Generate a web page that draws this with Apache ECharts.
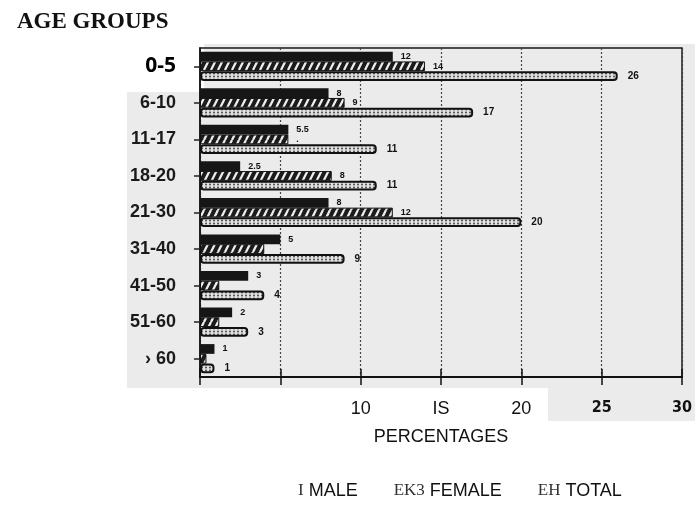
<!DOCTYPE html>
<html><head><meta charset="utf-8">
<script src="https://cdn.jsdelivr.net/npm/echarts@6/dist/echarts.min.js"></script>
<style>html,body{margin:0;padding:0;background:#fff}#c{width:695px;height:506px}</style>
</head><body><div id="c"></div>
<script>
const categories = ['0-5', '6-10', '11-17', '18-20', '21-30', '31-40', '41-50', '51-60', '› 60'];
const maleValues = [12, 8, 5.5, 2.5, 8, 5, 3, 2, 0.9];
const femaleValues = [14, 9, 5.5, 8.2, 12, 4, 1.2, 1.2, 0.4];
const totalValues = [26, 17, 11, 11, 20, 9, 4, 3, 0.9];
const maleLabelText = ['12', '8', '5.5', '2.5', '8', '5', '3', '2', '1'];
const femaleLabelText = ['14', '9', '.', '8', '12', '', '', '', ''];
const totalLabelText = ['26', '17', '11', '11', '20', '9', '4', '3', '1'];
const xTickLabels = ['', '', '10', 'IS', '20', '25', '30'];
const legendNames = ['MALE', 'FEMALE', 'TOTAL'];
const legendPrefixes = ['I', 'EK3', 'EH'];

function hatchPattern() {
  const c = document.createElement('canvas'); c.width = 7; c.height = 14;
  const g = c.getContext('2d');
  g.fillStyle = '#1b1b1b'; g.fillRect(0, 0, 7, 14);
  g.strokeStyle = '#eeeeee'; g.lineWidth = 2.2;
  [-7, 0, 7].forEach(function (dx) { g.beginPath(); g.moveTo(dx + 1, 14); g.lineTo(dx + 8, 0); g.stroke(); });
  return c;
}
function dotPattern() {
  const c = document.createElement('canvas'); c.width = 4; c.height = 3;
  const g = c.getContext('2d');
  g.fillStyle = '#e2e2e2'; g.fillRect(0, 0, 4, 3);
  g.fillStyle = '#444'; g.beginPath(); g.arc(2, 1.5, 0.95, 0, Math.PI * 2); g.fill();
  return c;
}

const labelBase = { show: true, position: 'right', distance: 8, fontSize: 9, fontWeight: 'bold', fontFamily: 'Liberation Sans', color: '#111' };

const chart = echarts.init(document.getElementById('c'), null, { renderer: 'canvas' });
chart.setOption({
  animation: false,
  backgroundColor: '#fff',
  title: { text: 'AGE GROUPS', left: 12, top: 6, textStyle: { fontFamily: 'Liberation Serif', fontWeight: 'bold', fontSize: 23, color: '#111' } },
  graphic: [
    { type: 'rect', silent: true, z: -10, shape: { x: 127, y: 44, width: 568, height: 344 }, style: { fill: '#ebebeb' } },
    { type: 'rect', silent: true, z: -10, shape: { x: 548, y: 388, width: 147, height: 33 }, style: { fill: '#ebebeb' } },
    { type: 'rect', silent: true, z: -5, shape: { x: 100, y: 30, width: 104, height: 62 }, style: { fill: '#ffffff' } }
  ],
  legend: {
    data: legendNames, left: 288, top: 477, itemWidth: 0, itemHeight: 0, itemGap: 30,
    formatter: function (name) { return '{p|' + legendPrefixes[legendNames.indexOf(name)] + '} ' + name; },
    textStyle: { fontFamily: 'Liberation Sans', fontSize: 18, color: '#111', rich: { p: { fontFamily: 'Liberation Serif', fontSize: 17, color: '#333' } } }
  },
  grid: { left: 200, right: 8, top: 48, bottom: 129, show: true, borderColor: '#1a1a1a', borderWidth: 1.5, backgroundColor: 'transparent' },
  xAxis: [
    {
      type: 'value', min: 0, max: 30, interval: 5, position: 'bottom',
      axisLine: { show: true, lineStyle: { color: '#111', width: 2 } },
      axisTick: { show: true, inside: false, length: 8, lineStyle: { color: '#111', width: 1.5 } },
      splitLine: { show: true, lineStyle: { color: '#444', width: 1.2, type: [2, 2] } },
      axisLabel: {
        margin: 23, fontFamily: 'Liberation Sans', fontSize: 18, color: '#111',
        formatter: function (v) { const i = Math.round(v / 5); const t = xTickLabels[i]; return i >= 5 ? '{b|' + t + '}' : t; },
        rich: { b: { fontFamily: 'DejaVu Sans Condensed', fontWeight: 'bold', fontSize: 16, color: '#111' } }
      },
      name: 'PERCENTAGES', nameLocation: 'middle', nameGap: 51,
      nameTextStyle: { fontFamily: 'Liberation Sans', fontSize: 18, color: '#111' }
    },
    {
      type: 'value', min: 0, max: 30, interval: 5, position: 'bottom',
      axisLine: { show: false }, splitLine: { show: false }, axisLabel: { show: false },
      axisTick: { show: true, inside: true, length: 8, lineStyle: { color: '#111', width: 1.5 } }
    }
  ],
  yAxis: {
    type: 'category', data: categories, inverse: true,
    axisLine: { show: true, lineStyle: { color: '#111', width: 1.5 } },
    axisTick: { show: true, alignWithLabel: true, length: 6, lineStyle: { color: '#222', width: 1.5 } },
    axisLabel: {
      margin: 24, fontFamily: 'Liberation Sans', fontWeight: 'bold', fontSize: 18, color: '#1a1a1a',
      formatter: function (v) { return v === categories[0] ? '{a|' + v + '}' : v; },
      rich: { a: { fontFamily: 'Open Sans', fontWeight: 'bold', fontSize: 21, color: '#000' } }
    }
  },
  series: [
    {
      name: 'MALE', type: 'bar', data: maleValues, barGap: '0%', barCategoryGap: '20%',
      itemStyle: { color: '#161616' },
      label: Object.assign({}, labelBase, { formatter: function (p) { return maleLabelText[p.dataIndex]; } })
    },
    {
      name: 'FEMALE', type: 'bar', data: femaleValues, barGap: '0%', barCategoryGap: '20%',
      itemStyle: { color: { image: hatchPattern(), repeat: 'repeat' }, borderColor: '#111', borderWidth: 1 },
      label: Object.assign({}, labelBase, { formatter: function (p) { return femaleLabelText[p.dataIndex]; } })
    },
    {
      name: 'TOTAL', type: 'bar', data: totalValues, barGap: '0%', barCategoryGap: '20%',
      itemStyle: { color: { image: dotPattern(), repeat: 'repeat' }, borderColor: '#111', borderWidth: 2, borderRadius: 3 },
      label: Object.assign({}, labelBase, { distance: 10, fontSize: 10, formatter: function (p) { return totalLabelText[p.dataIndex]; } })
    }
  ]
});
</script></body></html>
